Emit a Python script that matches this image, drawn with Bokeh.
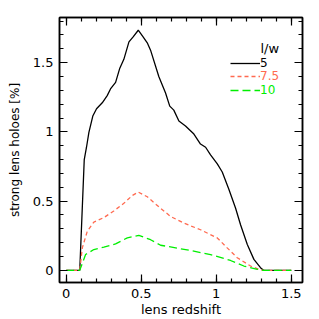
from bokeh.plotting import figure
from bokeh.models import (Range1d, LinearAxis, SingleIntervalTicker, Legend, LegendItem, Label,
                          CustomJSTickFormatter)
from bokeh.embed import file_html
from bokeh.resources import INLINE

# ---- data ----
z_5 = [0, 0.05, 0.09, 0.12, 0.135, 0.151, 0.177, 0.202, 0.24, 0.273, 0.295, 0.329, 0.357,
       0.384, 0.418, 0.446, 0.48, 0.51, 0.54, 0.562, 0.617, 0.662, 0.69, 0.717, 0.751, 0.795,
       0.851, 0.895, 0.929, 0.962, 1.007, 1.04, 1.084, 1.129, 1.162, 1.207, 1.251, 1.295,
       1.315, 1.4, 1.5]
holes_5 = [0, 0, 0, 0.80, 0.889, 0.996, 1.114, 1.167, 1.21, 1.262, 1.31, 1.357, 1.46,
           1.524, 1.65, 1.686, 1.734, 1.69, 1.643, 1.59, 1.4, 1.281, 1.186, 1.157, 1.079, 1.043,
           0.984, 0.912, 0.889, 0.834, 0.769, 0.71, 0.585, 0.448, 0.329, 0.186, 0.079, 0.019,
           0, 0, 0]

z_75 = [0, 0.05, 0.09, 0.107, 0.14, 0.184, 0.251, 0.317, 0.384, 0.44, 0.48, 0.54, 0.629,
        0.697, 0.784, 0.895, 1.007, 1.073, 1.14, 1.229, 1.284, 1.31, 1.4, 1.5]
holes_75 = [0, 0, 0, 0.162, 0.281, 0.348, 0.381, 0.429, 0.484, 0.54, 0.565, 0.531, 0.448,
            0.388, 0.341, 0.293, 0.234, 0.162, 0.091, 0.031, 0.007, 0, 0, 0]

z_10 = [0, 0.05, 0.09, 0.129, 0.184, 0.251, 0.329, 0.407, 0.484, 0.562, 0.629, 0.695,
        0.829, 0.962, 1.095, 1.184, 1.273, 1.317, 1.4, 1.5]
holes_10 = [0, 0, 0, 0.114, 0.15, 0.167, 0.191, 0.234, 0.253, 0.221, 0.181, 0.169,
            0.143, 0.114, 0.071, 0.031, 0.007, 0, 0, 0]

series_labels = ["5", "7.5", "10"]
legend_title = "l/w"
tick_values = [0, 0.5, 1, 1.5]
tick_labels = ["0", "0.5", "1", "1.5"]
x_title = "lens redshift"
y_title = "strong lens holoes [%]"

FONT = "DejaVu Sans"
RED = "#ff6a50"
GREEN = "#00ee00"

p = figure(width=319, height=319, output_backend="svg", toolbar_location=None,
           x_range=Range1d(-0.045, 1.575), y_range=Range1d(-0.088, 1.826),
           min_border_left=59, min_border_right=17, min_border_top=17, min_border_bottom=34,
           x_axis_location=None, y_axis_location=None)
p.grid.visible = False
p.outline_line_color = "black"
p.outline_line_width = 1.5
p.background_fill_color = "white"
p.border_fill_color = "white"

overrides = {v: t for v, t in zip(tick_values, tick_labels)}

def make_axis(show_labels, label="", label_standoff=1, label_size="13px"):
    ax = LinearAxis(ticker=SingleIntervalTicker(interval=0.5, num_minor_ticks=5))
    ax.major_tick_in = 8
    ax.major_tick_out = 0
    ax.minor_tick_in = 4
    ax.minor_tick_out = 0
    ax.axis_line_color = "black"
    ax.axis_line_width = 1.5
    ax.major_tick_line_width = 1.2
    ax.minor_tick_line_width = 1.2
    ax.major_tick_line_color = "black"
    ax.minor_tick_line_color = "black"
    if show_labels:
        ax.major_label_overrides = overrides
        ax.major_label_text_font = FONT
        ax.major_label_text_font_size = "13px"
        ax.major_label_text_color = "black"
        ax.major_label_standoff = 6
    else:
        ax.formatter = CustomJSTickFormatter(code="return '';")
        ax.major_label_standoff = 0
    if label:
        ax.axis_label = label
        ax.axis_label_text_font = FONT
        ax.axis_label_text_font_size = label_size
        ax.axis_label_text_font_style = "normal"
        ax.axis_label_text_color = "black"
        ax.axis_label_standoff = label_standoff
    return ax

p.add_layout(make_axis(True, x_title, 1, "13px"), "below")
p.add_layout(make_axis(True, y_title, 8, "12px"), "left")
p.add_layout(make_axis(False), "above")
p.add_layout(make_axis(False), "right")

r5 = p.line(z_5, holes_5, line_color="black", line_width=1.3)
r75 = p.line(z_75, holes_75, line_color=RED, line_width=1.3, line_dash="4 3")
r10 = p.line(z_10, holes_10, line_color=GREEN, line_width=1.3, line_dash="8 4")

# legend: three one-item legends so each label can keep its colour
legend_colors = ["black", RED, GREEN]
legend_y = [212, 199, 185]
for lab, rend, col, ly in zip(series_labels, [r5, r75, r10], legend_colors, legend_y):
    lg = Legend(items=[LegendItem(label=lab, renderers=[rend])], location=(171, ly),
                glyph_width=30, glyph_height=12, label_height=12, label_standoff=0,
                padding=0, margin=0, spacing=0, border_line_color=None,
                background_fill_alpha=0, label_text_font=FONT,
                label_text_font_size="12px", label_text_color=col,
                label_text_baseline="alphabetic")
    p.add_layout(lg, "center")

p.add_layout(Label(x=1.295, y=1.605, text=legend_title, text_align="left",
                   text_baseline="alphabetic", text_font=FONT, text_font_size="13px",
                   text_color="black"))

open("out.html", "w").write(file_html(p, INLINE))
